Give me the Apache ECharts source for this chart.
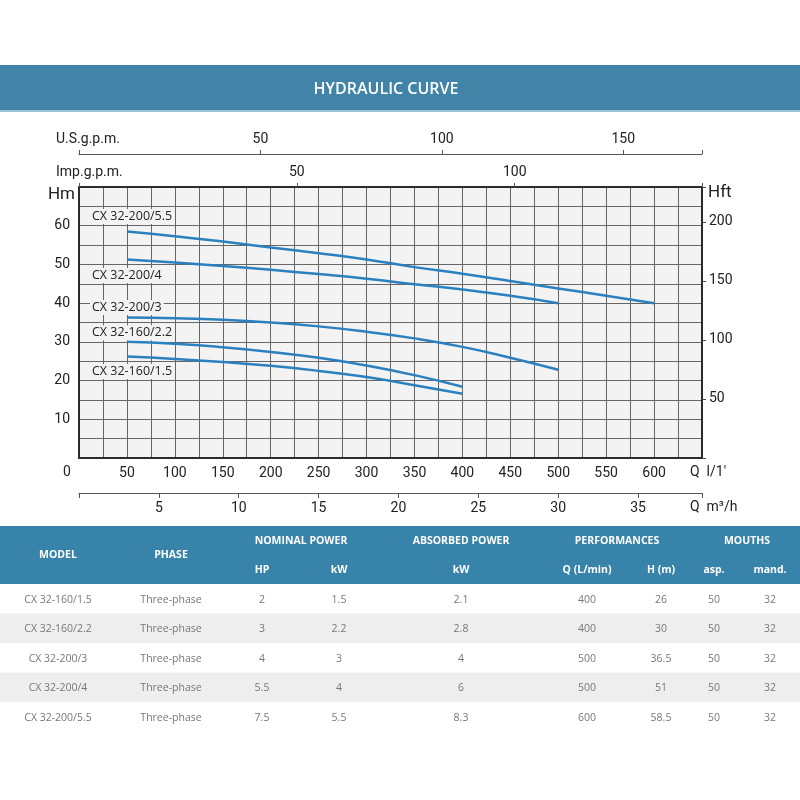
<!DOCTYPE html>
<html>
<head>
<meta charset="utf-8">
<script src="https://cdn.jsdelivr.net/npm/echarts@6/dist/echarts.min.js"></script>
<style>
  html, body { margin: 0; padding: 0; background: #fff; }
  #app { width: 800px; height: 800px; }
</style>
</head>
<body>
<div id="app"></div>
<script>
(function () {
  // curve data: flow in l/min, head in m
  const flowLpm = [50, 100, 150, 200, 250, 300, 350, 400, 450, 500, 550, 600];
  const head55 = [58.5, 57.3, 55.9, 54.4, 52.9, 51.3, 49.3, 47.6, 45.7, 43.8, 41.9, 40.0];
  const head4 = [51.3, 50.5, 49.6, 48.6, 47.5, 46.3, 44.9, 43.5, 41.9, 40.0];
  const head3 = [36.3, 36.1, 35.7, 35.0, 34.0, 32.6, 30.9, 28.7, 25.9, 22.8];
  const head22 = [30.0, 29.5, 28.6, 27.4, 25.9, 23.9, 21.4, 18.4];
  const head15 = [26.2, 25.6, 24.8, 23.8, 22.5, 20.9, 18.8, 16.6];

  const curveNames = ['CX 32-200/5.5', 'CX 32-200/4', 'CX 32-200/3', 'CX 32-160/2.2', 'CX 32-160/1.5'];
  const curveHeads = [head55, head4, head3, head22, head15];
  // label offset from the first point of each curve (px)
  const labelOffset = [[-37, -15], [-37, 16], [-37, -10], [-37, -9], [-37, 15]];

  // table
  const tableModels = ['CX 32-160/1.5', 'CX 32-160/2.2', 'CX 32-200/3', 'CX 32-200/4', 'CX 32-200/5.5'];
  const tablePhase = ['Three-phase', 'Three-phase', 'Three-phase', 'Three-phase', 'Three-phase'];
  const tableHp = ['2', '3', '4', '5.5', '7.5'];
  const tableKwNominal = ['1.5', '2.2', '3', '4', '5.5'];
  const tableKwAbsorbed = ['2.1', '2.8', '4', '6', '8.3'];
  const tableQ = ['400', '400', '500', '500', '600'];
  const tableH = ['26', '30', '36.5', '51', '58.5'];
  const tableAsp = ['50', '50', '50', '50', '50'];
  const tableMand = ['32', '32', '32', '32', '32'];

  const qMax = 650;
  const hMax = 70;

  const axisFont = 'Roboto, "DejaVu Sans", sans-serif';
  const textFont = '"Open Sans", "DejaVu Sans", sans-serif';
  const blue = '#2b80c0';

  var myChart = echarts.init(document.getElementById('app'));

  // show a label only on whole steps, never at 0 or at the axis end
  function stepLabel(step, max) {
    return function (v) {
      return (v > 0 && v < max - 1e-6 && Math.abs(v / step - Math.round(v / step)) < 1e-6) ? String(v) : '';
    };
  }

  let series = curveHeads.map(function (heads, i) {
    return {
      name: curveNames[i],
      type: 'line',
      xAxisIndex: 0,
      yAxisIndex: 0,
      smooth: true,
      showSymbol: false,
      symbol: 'none',
      silent: true,
      lineStyle: { color: blue, width: 2.5 },
      data: heads.map(function (h, j) { return [flowLpm[j], h]; })
    };
  });

  let option = {
    animation: false,
    grid: {
      left: 79, top: 187, width: 623, height: 271,
      containLabel: false, outerBoundsMode: 'none',
      show: true, backgroundColor: '#f3f3f3', borderWidth: 0
    },
    xAxis: [
      {
        // l/min
        type: 'value', position: 'bottom', min: 0, max: qMax, interval: 25,
        axisLine: { show: true, lineStyle: { color: '#2b2b2b', width: 2 } },
        axisTick: { show: false },
        axisLabel: {
          margin: 8, fontSize: 14, color: '#222', fontFamily: axisFont,
          formatter: stepLabel(50, qMax)
        },
        splitLine: { show: true, lineStyle: { color: '#666', width: 1 } }
      },
      {
        // m3/h
        type: 'value', position: 'bottom', offset: 35, min: 0, max: qMax * 60 / 1000, interval: 5,
        axisLine: { show: true, onZero: false, lineStyle: { color: '#555', width: 1 } },
        axisTick: { show: true, length: 5, lineStyle: { color: '#555' } },
        axisLabel: {
          margin: 8, fontSize: 14, color: '#222', fontFamily: axisFont,
          formatter: stepLabel(5, qMax * 60 / 1000)
        },
        splitLine: { show: false }
      },
      {
        // Imp. g.p.m.
        type: 'value', position: 'top', min: 0, max: qMax / 4.54609, interval: 50,
        axisLine: { show: true, onZero: false, lineStyle: { color: '#2b2b2b', width: 2 } },
        axisTick: { show: true, length: 4, lineStyle: { color: '#555' } },
        axisLabel: {
          margin: 8, fontSize: 14, color: '#222', fontFamily: axisFont,
          formatter: stepLabel(50, qMax / 4.54609)
        },
        splitLine: { show: false }
      },
      {
        // U.S. g.p.m.
        type: 'value', position: 'top', offset: 33, min: 0, max: qMax / 3.78541, interval: 50,
        axisLine: { show: true, onZero: false, lineStyle: { color: '#555', width: 1 } },
        axisTick: { show: true, length: 4, lineStyle: { color: '#555' } },
        axisLabel: {
          margin: 8, fontSize: 14, color: '#222', fontFamily: axisFont,
          formatter: stepLabel(50, qMax / 3.78541)
        },
        splitLine: { show: false }
      }
    ],
    yAxis: [
      {
        // m
        type: 'value', position: 'left', min: 0, max: hMax, interval: 5,
        axisLine: { show: true, onZero: false, lineStyle: { color: '#2b2b2b', width: 2 } },
        axisTick: { show: false },
        axisLabel: {
          margin: 9, fontSize: 14, color: '#222', fontFamily: axisFont,
          formatter: stepLabel(10, hMax)
        },
        splitLine: { show: true, lineStyle: { color: '#666', width: 1 } }
      },
      {
        // ft
        type: 'value', position: 'right', min: 0, max: hMax / 0.3048, interval: 50,
        axisLine: { show: true, onZero: false, lineStyle: { color: '#2b2b2b', width: 2 } },
        axisTick: { show: true, length: 4, lineStyle: { color: '#444' } },
        axisLabel: {
          margin: 7, fontSize: 14, color: '#222', fontFamily: axisFont,
          formatter: stepLabel(50, hMax / 0.3048)
        },
        splitLine: { show: false }
      }
    ],
    series: series
  };

  myChart.setOption(option);

  // fixed texts and table
  let g = [];
  // title band
  g.push({ type: 'rect', shape: { x: 0, y: 65, width: 800, height: 46 }, style: { fill: '#4184a8' }, silent: true });
  g.push({ type: 'rect', shape: { x: 0, y: 110, width: 800, height: 2 }, style: { fill: '#9cc3d8' }, silent: true });
  g.push({ type: 'text', style: { text: 'HYDRAULIC CURVE', x: 386, y: 89, align: 'center', verticalAlign: 'middle', fill: '#fff', font: '600 16px ' + textFont } });

  function txt(t, x, y, opts) {
    g.push({ type: 'text', silent: true, style: Object.assign({ text: t, x: x, y: y, align: 'left', verticalAlign: 'middle', fill: '#222', font: '14px ' + axisFont }, opts || {}) });
  }
  txt('U.S.g.p.m.', 56, 139);
  txt('Imp.g.p.m.', 56, 172);
  txt('Hm', 75, 195, { align: 'right', font: '17px ' + axisFont });
  txt('Hft', 708, 193, { font: '17px ' + axisFont });
  txt('0', 67, 472, { align: 'center' });
  txt('Q  l/1\u2032', 690, 472);
  txt('Q  m\u00b3/h', 690, 507);

  // curve labels, placed from the first point of each curve
  curveHeads.forEach(function (heads, i) {
    let p = myChart.convertToPixel({ xAxisIndex: 0, yAxisIndex: 0 }, [flowLpm[0], heads[0]]);
    g.push({
      type: 'text', silent: true, z: 10,
      style: {
        text: curveNames[i], x: p[0] + labelOffset[i][0], y: p[1] + labelOffset[i][1],
        align: 'left', verticalAlign: 'middle', fill: '#222', font: '12.5px ' + textFont,
        backgroundColor: '#f3f3f3', padding: [1, 2]
      }
    });
  });

  // table
  const colX = [58, 171, 262, 339, 461, 587, 661, 714, 770];
  const headTop = 526, headBottom = 584, rowH = 29.5;
  g.push({ type: 'rect', silent: true, shape: { x: 0, y: headTop, width: 800, height: headBottom - headTop }, style: { fill: '#3783aa' } });
  const hFont = 'bold 10.5px ' + textFont;
  function head(t, x, y) {
    g.push({ type: 'text', silent: true, style: { text: t, x: x, y: y, align: 'center', verticalAlign: 'middle', fill: '#fff', font: hFont } });
  }
  head('MODEL', colX[0], 555);
  head('PHASE', colX[1], 555);
  head('NOMINAL POWER', 301, 541);
  head('HP', colX[2], 570);
  head('kW', colX[3], 570);
  head('ABSORBED POWER', colX[4], 541);
  head('kW', colX[4], 570);
  head('PERFORMANCES', 617, 541);
  head('Q (L/min)', colX[5], 570);
  head('H (m)', colX[6], 570);
  head('MOUTHS', 747, 541);
  head('asp.', colX[7], 570);
  head('mand.', colX[8], 570);

  const cols = [tableModels, tablePhase, tableHp, tableKwNominal, tableKwAbsorbed, tableQ, tableH, tableAsp, tableMand];
  for (let r = 0; r < tableModels.length; r++) {
    let y0 = headBottom + r * rowH;
    if (r % 2 === 1) {
      g.push({ type: 'rect', silent: true, shape: { x: 0, y: y0, width: 800, height: rowH }, style: { fill: '#eeeeee' } });
    }
    cols.forEach(function (col, c) {
      g.push({ type: 'text', silent: true, z: 5, style: { text: col[r], x: colX[c], y: y0 + rowH / 2 + 1, align: 'center', verticalAlign: 'middle', fill: '#777', font: '10.5px ' + textFont } });
    });
  }

  myChart.setOption({ graphic: g });
})();
</script>
</body>
</html>
